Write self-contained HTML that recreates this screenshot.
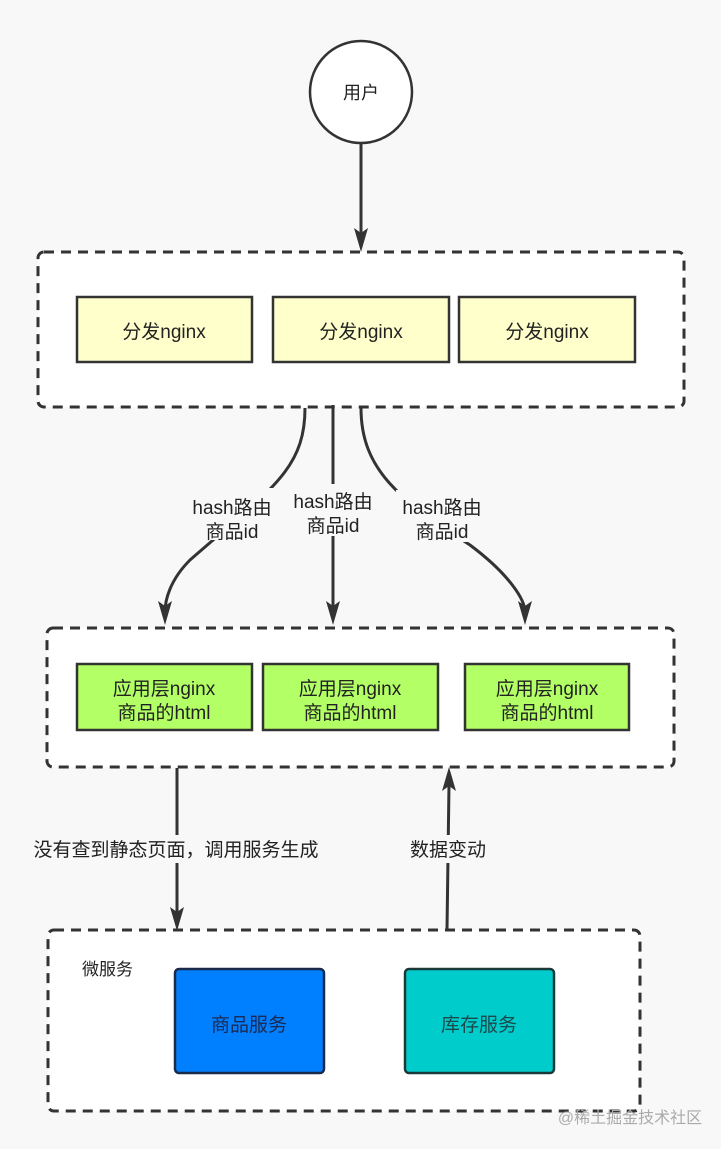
<!DOCTYPE html>
<html><head><meta charset="utf-8"><style>
html,body{margin:0;padding:0;background:#f8f8f8;}
svg{display:block;}
text{font-family:"Liberation Sans","Noto Sans CJK SC",sans-serif;fill:#222;}
</style></head><body>
<svg width="721" height="1149" viewBox="0 0 721 1149" xmlns="http://www.w3.org/2000/svg">
<rect width="721" height="1149" fill="#f8f8f8"/>
<circle cx="361" cy="92" r="51" fill="#fff" stroke="#333" stroke-width="2.5"/>
<text x="361" y="99" font-size="18" text-anchor="middle">用户</text>
<line x1="361" y1="144" x2="361" y2="240" stroke="#333" stroke-width="3"/>
<path d="M354,228 L361,252 L368,228 L361,233 Z" fill="#333"/>

<rect x="38" y="252" width="646" height="155" rx="6" fill="#fff" stroke="#333" stroke-width="3" stroke-dasharray="10,7"/>
<g stroke="#333" stroke-width="2.5" fill="#ffffcc">
<rect x="77" y="297" width="175" height="65"/>
<rect x="273" y="297" width="176" height="65"/>
<rect x="459" y="297" width="176" height="65"/>
</g>
<g font-size="19" text-anchor="middle">
<text x="164" y="338">分发nginx</text>
<text x="361" y="338">分发nginx</text>
<text x="547" y="338">分发nginx</text>
</g>

<g stroke="#333" stroke-width="3" fill="none">
<path d="M305,408 C305,470 270,490 190,560 C170,580 165,600 165,612"/>
<line x1="333" y1="405" x2="333" y2="610"/>
<path d="M361,408 C361,470 400,500 470,545 C510,575 525,600 525,612"/>
</g>
<path d="M158,601 L165,625 L172,601 L165,606 Z" fill="#333"/>
<path d="M326,601 L333,625 L340,601 L333,606 Z" fill="#333"/>
<path d="M518,601 L525,625 L532,601 L525,606 Z" fill="#333"/>
<rect x="186" y="488" width="92" height="52" fill="#f8f8f8"/>
<rect x="288" y="484" width="90" height="52" fill="#f8f8f8"/>
<rect x="396" y="490" width="92" height="52" fill="#f8f8f8"/>
<g font-size="19" text-anchor="middle">
<text x="232" y="514">hash路由</text><text x="232" y="538">商品id</text>
<text x="333" y="508">hash路由</text><text x="333" y="532">商品id</text>
<text x="442" y="514">hash路由</text><text x="442" y="538">商品id</text>
</g>

<rect x="47" y="628" width="627" height="139" rx="6" fill="#fff" stroke="#333" stroke-width="3" stroke-dasharray="10,7"/>
<g stroke="#333" stroke-width="2.5" fill="#b3ff66">
<rect x="77" y="664" width="175" height="66"/>
<rect x="263" y="664" width="175" height="66"/>
<rect x="465" y="664" width="164" height="66"/>
</g>
<g font-size="19" text-anchor="middle">
<text x="164" y="695">应用层nginx</text><text x="164" y="719">商品的html</text>
<text x="350" y="695">应用层nginx</text><text x="350" y="719">商品的html</text>
<text x="547" y="695">应用层nginx</text><text x="547" y="719">商品的html</text>
</g>

<line x1="177" y1="768" x2="177" y2="915" stroke="#333" stroke-width="3"/>
<path d="M170,907 L177,931 L184,907 L177,912 Z" fill="#333"/>
<line x1="447" y1="930" x2="449" y2="785" stroke="#333" stroke-width="3"/>
<path d="M442,791 L449,767 L456,791 L449,786 Z" fill="#333"/>
<rect x="26" y="835" width="298" height="28" fill="#f8f8f8"/>
<rect x="404" y="835" width="88" height="28" fill="#f8f8f8"/>
<text x="176" y="856" font-size="19" text-anchor="middle">没有查到静态页面，调用服务生成</text>
<text x="448" y="856" font-size="19" text-anchor="middle">数据变动</text>

<rect x="48" y="930" width="592" height="181" rx="6" fill="#fff" stroke="#333" stroke-width="3" stroke-dasharray="10,7"/>
<text x="82" y="975" font-size="17">微服务</text>
<rect x="175" y="969" width="149" height="104" rx="4" fill="#007fff" stroke="#1a2a4a" stroke-width="2.5"/>
<rect x="405" y="969" width="149" height="104" rx="4" fill="#00cccc" stroke="#1a3a3a" stroke-width="2.5"/>
<text x="249" y="1031" font-size="19" text-anchor="middle" style="fill:#1a2a55">商品服务</text>
<text x="479" y="1031" font-size="19" text-anchor="middle" style="fill:#1a4a4a">库存服务</text>
<text x="630" y="1123" font-size="16" text-anchor="middle" style="fill:#aaa">@稀土掘金技术社区</text>
</svg>
</body></html>
